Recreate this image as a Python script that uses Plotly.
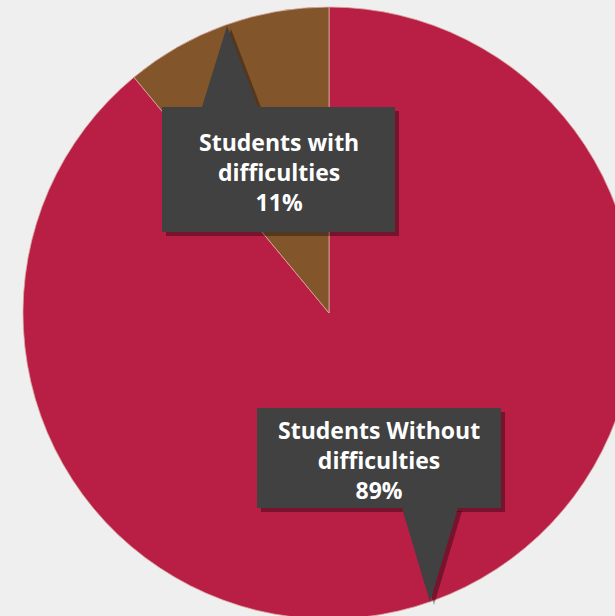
import plotly.graph_objects as go

categories = ["Students Without difficulties", "Students with difficulties"]
values = [89, 11]
colors = ["#B91E45", "#82552B"]

label_with = ["Students with", "difficulties", "11%"]
label_without = ["Students Without", "difficulties", "89%"]

W, H = 635, 619
ML, MT = 23, 7
PW, PH = W - ML, H - MT

def px(x):
    return (x - ML) / PW

def py(y):
    return 1 - (y - MT) / PH

fig = go.Figure()
fig.add_trace(go.Pie(
    labels=categories, values=values, sort=False, direction="clockwise",
    rotation=0, marker=dict(colors=colors, line=dict(color="#D9A9A0", width=0.8)),
    textinfo="none", hoverinfo="label+percent", showlegend=False,
))

BOX = "#414141"
SH = "rgba(0,0,0,0.35)"

def callout(x0, y0, x1, y1, tri, lines, yc):
    shapes = []
    shapes.append(dict(type="rect", xref="paper", yref="paper",
                       x0=px(x0 + 4), x1=px(x1 + 4), y0=py(y0 + 4), y1=py(y1 + 4),
                       fillcolor=SH, line=dict(width=0), layer="above"))
    path = "M %f,%f L %f,%f L %f,%f Z" % (px(tri[0][0]), py(tri[0][1]), px(tri[1][0]), py(tri[1][1]), px(tri[2][0]), py(tri[2][1]))
    spath = "M %f,%f L %f,%f L %f,%f Z" % (px(tri[0][0] + 4), py(tri[0][1] + 3), px(tri[1][0] + 4), py(tri[1][1] + 3), px(tri[2][0] + 4), py(tri[2][1] + 3))
    shapes.append(dict(type="path", xref="paper", yref="paper", path=spath,
                       fillcolor=SH, line=dict(width=0), layer="above"))
    shapes.append(dict(type="path", xref="paper", yref="paper", path=path,
                       fillcolor=BOX, line=dict(width=0), layer="above"))
    shapes.append(dict(type="rect", xref="paper", yref="paper",
                       x0=px(x0), x1=px(x1), y0=py(y0), y1=py(y1),
                       fillcolor=BOX, line=dict(width=0), layer="above"))
    for s in shapes:
        fig.add_shape(**s)
    fig.add_annotation(xref="paper", yref="paper", x=px((x0 + x1) / 2), y=py(yc),
                       text="<b>" + "<br>".join(lines) + "</b>", showarrow=False,
                       xanchor="center", yanchor="middle",
                       font=dict(family="Open Sans", size=23, color="white"), align="center")

callout(162, 107, 395, 232, [(202, 107), (227, 26), (258, 107)], label_with, 172)
callout(257, 408, 501, 508, [(402, 508), (430, 602), (458, 508)], label_without, 460)

fig.update_layout(
    width=W, height=H,
    margin=dict(l=ML, r=0, t=MT, b=0),
    paper_bgcolor="#EFEFEF", plot_bgcolor="#EFEFEF",
)

fig.write_html("out.html", config={"displayModeBar": False},
               post_script="document.body.style.margin='0';document.body.style.overflow='hidden';")
